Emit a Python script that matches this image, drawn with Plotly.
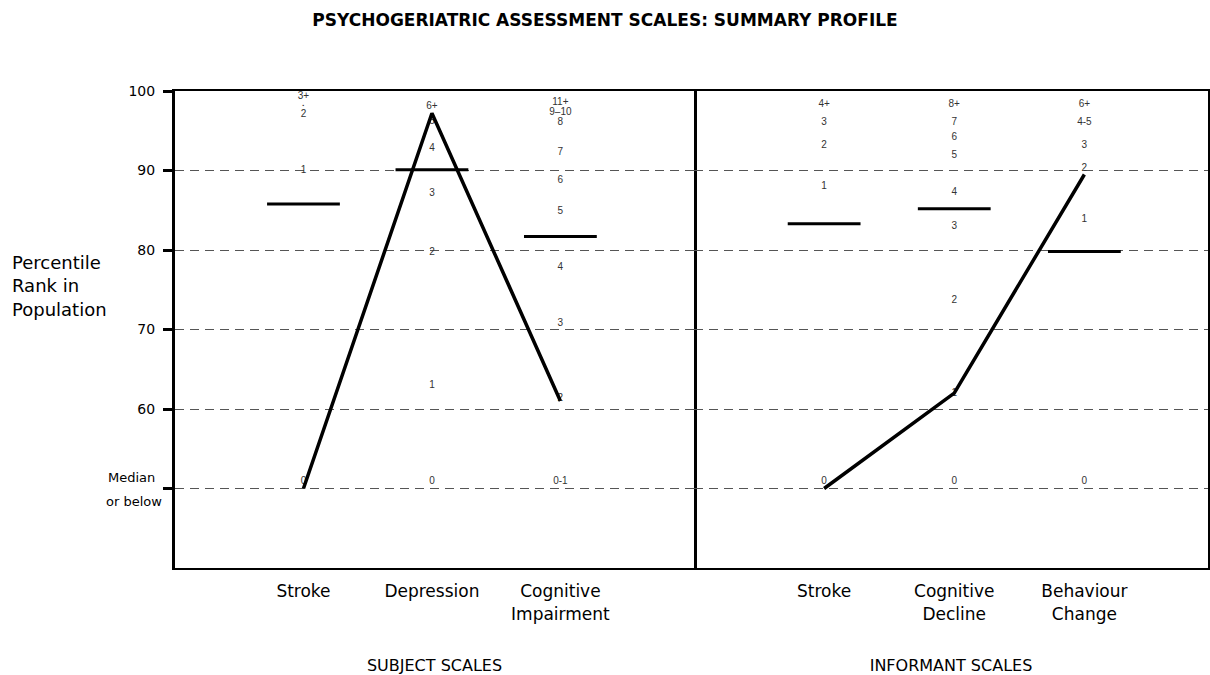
import plotly.graph_objects as go

# ---------------- data ----------------
title_text = "PSYCHOGERIATRIC ASSESSMENT SCALES: SUMMARY PROFILE"
y_title = "Percentile<br>Rank in<br>Population"

subject_group = "SUBJECT SCALES"
informant_group = "INFORMANT SCALES"

subject_scales = ["Stroke", "Depression", "Cognitive<br>Impairment"]
informant_scales = ["Stroke", "Cognitive<br>Decline", "Behaviour<br>Change"]

# patient profile (percentile rank)
subject_profile = [50, 97.2, 61.0]
informant_profile = [50, 62.0, 89.5]

# horizontal reference bars
subject_norm = [85.8, 90.1, 81.7]
informant_norm = [83.3, 85.2, 79.8]

# raw-score labels placed at their percentile
subj_stroke_lbl = ["3+", "▪", "2", "1", "0"]
subj_stroke_pct = [99.3, 98.1, 97.0, 90.0, 50.9]
subj_dep_lbl = ["6+", "5", "4", "3", "2", "1", "0"]
subj_dep_pct = [98.0, 96.2, 92.8, 87.1, 79.7, 63.0, 50.9]
subj_cog_lbl = ["11+", "9–10", "8", "7", "6", "5", "4", "3", "2", "0-1"]
subj_cog_pct = [98.6, 97.3, 96.1, 92.3, 88.8, 84.8, 77.8, 70.7, 61.3, 50.9]

inf_stroke_lbl = ["4+", "3", "2", "1", "0"]
inf_stroke_pct = [98.3, 96.1, 93.2, 88.0, 50.9]
inf_cog_lbl = ["8+", "7", "6", "5", "4", "3", "2", "1", "0"]
inf_cog_pct = [98.3, 96.1, 94.1, 91.9, 87.2, 82.9, 73.6, 61.9, 50.9]
inf_beh_lbl = ["6+", "4-5", "3", "2", "1", "0"]
inf_beh_pct = [98.3, 96.1, 93.1, 90.3, 83.8, 50.9]

ytick_vals = [50, 60, 70, 80, 90, 100]
ytick_text = ["", "60", "70", "80", "90", "100"]
median_label_lines = ["Median", "or below"]
median_label_pct = [51.4, 48.4]

# ---------------- figure ----------------
ARIAL = "Arial, 'Liberation Sans', sans-serif"
WIDE = "'DejaVu Sans', Arial, sans-serif"
fig = go.Figure()

subject_labels = [(subj_stroke_lbl, subj_stroke_pct), (subj_dep_lbl, subj_dep_pct), (subj_cog_lbl, subj_cog_pct)]
informant_labels = [(inf_stroke_lbl, inf_stroke_pct), (inf_cog_lbl, inf_cog_pct), (inf_beh_lbl, inf_beh_pct)]

for xa, groups in (("x", subject_labels), ("x2", informant_labels)):
    for i, (lbls, pcts) in enumerate(groups):
        sizes = [5 if t == "▪" else 10 for t in lbls]
        fig.add_trace(go.Scatter(
            x=[i + 1] * len(lbls), y=pcts, text=lbls, mode="text",
            textposition="middle center",
            textfont=dict(family=ARIAL, size=sizes, color="#333333"),
            xaxis=xa, yaxis="y" if xa == "x" else "y2",
            showlegend=False, hoverinfo="skip"))

# reference bars
for xa, ya, vals in (("x", "y", subject_norm), ("x2", "y2", informant_norm)):
    fig.add_trace(go.Scatter(
        x=list(range(1, len(vals) + 1)), y=vals, mode="markers",
        marker=dict(symbol="line-ew", size=52, color="black",
                    line=dict(color="black", width=3)),
        xaxis=xa, yaxis=ya, showlegend=False, hoverinfo="skip"))

# profile lines
for xa, ya, vals in (("x", "y", subject_profile), ("x2", "y2", informant_profile)):
    fig.add_trace(go.Scatter(
        x=list(range(1, len(vals) + 1)), y=vals, mode="lines",
        line=dict(color="black", width=3.5),
        xaxis=xa, yaxis=ya, showlegend=False, hoverinfo="skip"))

split = (694 - 175) / 1033

common_x = dict(showline=True, linecolor="black", linewidth=2, mirror=True,
                showgrid=False, zeroline=False, ticks="",
                tickfont=dict(family=WIDE, size=17, color="black"),
                ticklabelstandoff=7,
                title_font=dict(family=WIDE, size=16, color="black"),
                title_standoff=38)

grid = dict(showgrid=True, gridcolor="#555", gridwidth=1, griddash="9px,6px", zeroline=False)

annotations = [dict(text=y_title, xref="paper", yref="paper",
                    x=(10 - 175) / 1033, y=(570 - 287) / 479,
                    xanchor="left", yanchor="middle", align="left", showarrow=False,
                    font=dict(family=WIDE, size=18, color="black"))]
for txt, pct, px in zip(median_label_lines, median_label_pct, [131, 134]):
    annotations.append(dict(text=txt, xref="paper", yref="y", x=(px - 175) / 1033, y=pct,
                            xanchor="center", yanchor="middle", showarrow=False,
                            font=dict(family=WIDE, size=13, color="black")))

fig.update_layout(
    width=1210, height=675,
    margin=dict(l=175, r=2, t=91, b=105),
    paper_bgcolor="white", plot_bgcolor="white",
    font=dict(family=ARIAL, color="black"),
    title=dict(text="<b>" + title_text + "</b>", x=0.5, xref="container",
               y=1 - 20 / 675, yref="container", xanchor="center", yanchor="middle",
               font=dict(family=WIDE, size=17, color="black")),
    xaxis=dict(domain=[0, split], range=[0, 4.04], anchor="y",
               tickvals=[1, 2, 3], ticktext=subject_scales,
               title_text=subject_group, **common_x),
    xaxis2=dict(domain=[split, 1], range=[0, 3.95], anchor="y2",
                tickvals=[1, 2, 3], ticktext=informant_scales,
                title_text=informant_group, **common_x),
    yaxis=dict(range=[40, 100], anchor="x", tickvals=ytick_vals, ticktext=ytick_text,
               ticks="outside", ticklen=9, tickwidth=3, tickcolor="black",
               ticklabelstandoff=5,
               tickfont=dict(family=WIDE, size=14, color="black"),
               showline=True, linecolor="black", linewidth=3, mirror=True, **grid),
    yaxis2=dict(range=[40, 100], anchor="x2", matches="y", tickvals=ytick_vals,
                side="right", showticklabels=False, ticks="",
                showline=True, linecolor="black", linewidth=3, mirror=False, **grid),
    annotations=annotations,
)

fig.write_html("out.html", config={"displayModeBar": False},
               post_script="document.body.style.margin='0px';"
                           "document.documentElement.style.overflow='hidden';")
